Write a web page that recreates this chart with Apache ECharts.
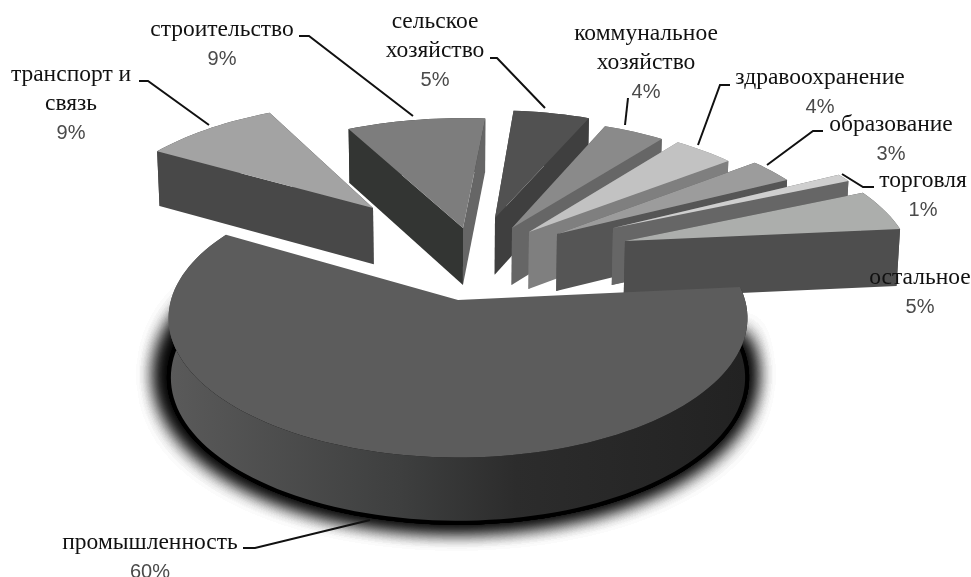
<!DOCTYPE html>
<html><head><meta charset="utf-8">
<style>html,body{margin:0;padding:0;background:#fff}#c{width:971px;height:577px}</style>
<script src="https://cdn.jsdelivr.net/npm/echarts@6/dist/echarts.min.js"></script>
</head><body><div id="c"></div>
<script>
const categories = ['транспорт и\nсвязь','строительство','сельское\nхозяйство','коммунальное\nхозяйство','здравоохранение','образование','торговля','остальное','промышленность'];
const values = [9,9,5,4,4,3,1,5,60];

const topColors  = ['#a3a3a3','#7d7d7d','#515151','#8a8a8a','#c2c2c2','#9c9c9c','#cfcfcf','#acaeac','#5c5c5c'];
const nearSide   = ['#484848','#333533','#3f3f3f','#666666','#7f7f7f','#555555','#666666','#4e4e4e','#333333'];
const farSide    = ['#484848','#666666','#3f3f3f','#666666','#7f7f7f','#555555','#666666','#4e4e4e','#333333'];
const explode    = [[-85,-92],[5,-72],[37,-82],[54,-72],[71,-68],[99,-66],[155,-72],[167,-59],[0,0]];
const labelAt    = [[71,75],[222,30],[435,22],[646,34],[820,78],[891,125],[923,181],[920,278],[150,543]];
const leaders    = [
  [[139,81],[148,81],[209,125]],
  [[299,36],[309,36],[413,116]],
  [[490,58],[497,58],[545,108]],
  [[628,98],[625,125]],
  [[730,85],[720,85],[698,145]],
  [[823,131],[813,131],[767,165]],
  [[874,187],[863,187],[842,174]],
  [],
  [[243,548],[255,548],[370,520]]
];

const CX=458, CY=300, RX=287, RY=137, PERSP=0.13, DEPTH=59, START=300.5, SLICE_R=1.04;
const total = values.reduce((a,b)=>a+b,0);

function project(u,v,z){
  const p=1/(1+PERSP*v);
  const d=z?DEPTH*Math.sqrt(p):0;
  const shrink=z?0.992:1;
  return [CX+RX*u*p*shrink, CY-RY*v*p+d];
}
function unproject(dx,dy){
  const a=-dy/RY, v=a/(1-PERSP*a), p=1/(1+PERSP*v);
  return [dx/(RX*p), v];
}
function arc(t0,t1,o,z,r,back){
  const pts=[], n=Math.max(2,Math.ceil((t1-t0)/2));
  for(let i=0;i<=n;i++){
    const t=(t0+(t1-t0)*i/n)*Math.PI/180;
    pts.push(project(o[0]+r*Math.sin(t),o[1]+r*Math.cos(t),z));
  }
  return back?pts.reverse():pts;
}
const wallGrad={type:'linear',x:0,y:0,x2:1,y2:0,colorStops:[
  {offset:0,color:'#5a5a5a'},{offset:0.4,color:'#3e3f3f'},{offset:0.6,color:'#2c2c2c'},{offset:1,color:'#222222'}]};

function renderItem(params,api){
  const i=params.dataIndex;
  let before=0; for(let k=0;k<i;k++) before+=values[k];
  const t0=START+before/total*360, t1=t0+api.value(0)/total*360;
  const o=unproject(explode[i][0],explode[i][1]);
  const isMain=api.value(0)===Math.max.apply(null,values);
  const r=isMain?1:SLICE_R;
  const tipT=project(o[0],o[1],false), tipB=project(o[0],o[1],true);
  const children=[];
  const poly=(points,style)=>children.push({type:'polygon',shape:{points},style});
  const face=(t,col)=>{
    const a=arc(t,t,o,false,r)[0], b=arc(t,t,o,true,r)[0];
    poly([tipT,a,b,tipB],{fill:col});
  };
  if(isMain){
    for(let n=0;n<4;n++){
      poly([tipB].concat(arc(t0,t1,o,true,r)),{fill:'#000',stroke:'#000',lineWidth:8,shadowColor:'#000',shadowBlur:24,shadowOffsetY:-3,shadowOffsetX:-2});
    }
  }
  poly(arc(t0,t1,o,false,r).concat(arc(t0,t1,o,true,r,true)),{fill:isMain?wallGrad:nearSide[i]});
  const mid=(t0+t1)/2*Math.PI/180;
  if(!isMain){
    if(Math.sin(mid)>0){ face(t0,farSide[i]); face(t1,nearSide[i]); }
    else { face(t1,farSide[i]); face(t0,nearSide[i]); }
  }
  poly([tipT].concat(arc(t0,t1,o,false,r)),{fill:topColors[i]});

  if(leaders[i].length) children.push({type:'polyline',shape:{points:leaders[i]},style:{fill:null,stroke:'#111',lineWidth:2}});
  const lines=categories[i].split('\n');
  const x=labelAt[i][0]; let y=labelAt[i][1];
  lines.forEach(s=>{
    children.push({type:'text',x,y,style:{text:s,fill:'#111',font:'23.5px "Liberation Serif"',align:'center',verticalAlign:'middle'}});
    y+=29;
  });
  children.push({type:'text',x,y,style:{text:api.value(0)+'%',fill:'#4a4a4a',font:'20px "Liberation Sans"',align:'center',verticalAlign:'middle'}});
  return {type:'group',children};
}

const chart=echarts.init(document.getElementById('c'),null,{renderer:'canvas'});
chart.setOption({
  animation:false,
  backgroundColor:'#fff',
  series:[{type:'custom',coordinateSystem:'none',renderItem,clip:false,
    data:values.map((v,i)=>({name:categories[i],value:[v]}))}]
});
</script></body></html>
